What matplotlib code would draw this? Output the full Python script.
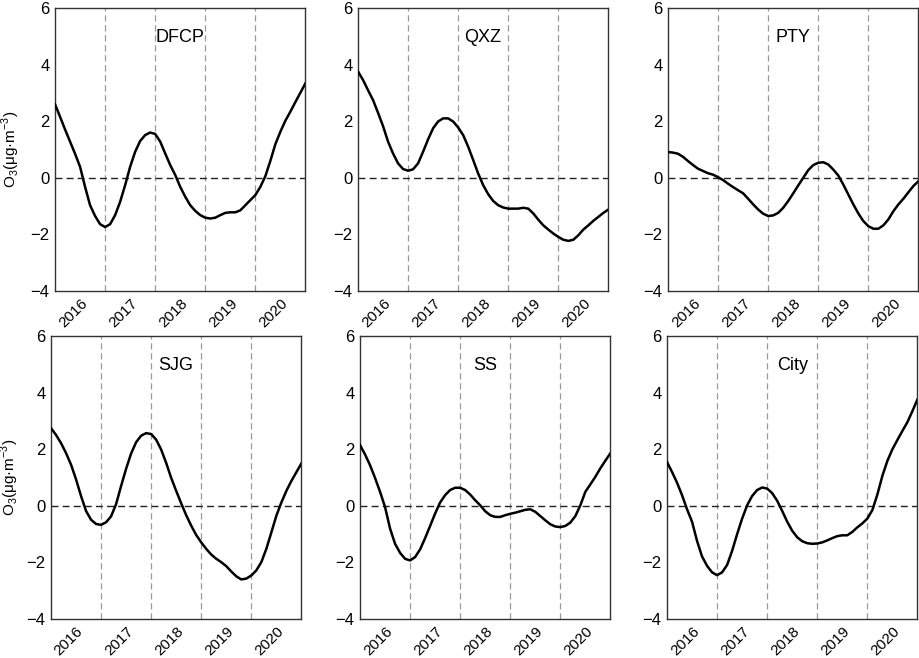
import matplotlib
matplotlib.use("Agg")
import matplotlib.pyplot as plt
from matplotlib.transforms import ScaledTranslation

plt.rcParams['font.family'] = ['Liberation Sans', 'DejaVu Sans']

# Zeitachse (Jahre, Schritt 0.1)
time = [2016.0, 2016.1, 2016.2, 2016.3, 2016.4, 2016.5, 2016.6, 2016.7, 2016.8, 2016.9,
        2017.0, 2017.1, 2017.2, 2017.3, 2017.4, 2017.5, 2017.6, 2017.7, 2017.8, 2017.9,
        2018.0, 2018.1, 2018.2, 2018.3, 2018.4, 2018.5, 2018.6, 2018.7, 2018.8, 2018.9,
        2019.0, 2019.1, 2019.2, 2019.3, 2019.4, 2019.5, 2019.6, 2019.7, 2019.8, 2019.9,
        2020.0, 2020.1, 2020.2, 2020.3, 2020.4, 2020.5, 2020.6, 2020.7, 2020.8, 2020.9,
        2021.0]
year_labels = ["2016", "2017", "2018", "2019", "2020"]
year_ticks = [2016.5, 2017.5, 2018.5, 2019.5, 2020.5]
year_bounds = [2017, 2018, 2019, 2020]

dfcp = [2.6, 2.16, 1.71, 1.28, 0.85, 0.39, -0.32, -0.97, -1.35, -1.64,
        -1.74, -1.64, -1.32, -0.85, -0.26, 0.39, 0.92, 1.3, 1.51, 1.6,
        1.55, 1.28, 0.86, 0.45, 0.1, -0.32, -0.67, -0.97, -1.17, -1.32,
        -1.41, -1.44, -1.41, -1.32, -1.24, -1.22, -1.22, -1.15, -0.97, -0.79,
        -0.61, -0.32, 0.06, 0.6, 1.19, 1.63, 2.02, 2.34, 2.68, 3.01,
        3.34]
qxz = [3.76, 3.46, 3.1, 2.75, 2.3, 1.83, 1.28, 0.86, 0.51, 0.31,
       0.25, 0.3, 0.51, 0.92, 1.36, 1.75, 1.99, 2.1, 2.1, 1.99,
       1.78, 1.51, 1.1, 0.63, 0.15, -0.26, -0.58, -0.82, -0.97, -1.05,
       -1.09, -1.09, -1.09, -1.06, -1.09, -1.26, -1.48, -1.68, -1.83, -1.97,
       -2.09, -2.19, -2.23, -2.19, -2.03, -1.83, -1.68, -1.52, -1.38, -1.24,
       -1.12]
pty = [0.91, 0.89, 0.85, 0.74, 0.59, 0.45, 0.32, 0.24, 0.16, 0.11,
       0.02, -0.08, -0.21, -0.33, -0.44, -0.55, -0.74, -0.94, -1.12, -1.27,
       -1.35, -1.33, -1.24, -1.06, -0.82, -0.55, -0.27, 0.0, 0.27, 0.45,
       0.53, 0.55, 0.47, 0.29, 0.08, -0.24, -0.59, -0.94, -1.26, -1.53,
       -1.71, -1.8, -1.8, -1.68, -1.47, -1.18, -0.94, -0.74, -0.51, -0.29,
       -0.12]
sjg = [2.75, 2.51, 2.22, 1.87, 1.46, 0.94, 0.35, -0.18, -0.49, -0.64,
       -0.67, -0.58, -0.37, 0.06, 0.7, 1.31, 1.85, 2.25, 2.48, 2.57,
       2.54, 2.34, 1.99, 1.52, 0.99, 0.53, 0.09, -0.33, -0.7, -1.03,
       -1.29, -1.52, -1.72, -1.87, -1.99, -2.13, -2.32, -2.49, -2.6, -2.57,
       -2.46, -2.28, -1.99, -1.52, -0.94, -0.35, 0.12, 0.53, 0.88, 1.19,
       1.5]
ss = [2.15, 1.82, 1.44, 0.99, 0.5, -0.04, -0.8, -1.34, -1.66, -1.87,
      -1.93, -1.81, -1.54, -1.14, -0.71, -0.27, 0.12, 0.38, 0.56, 0.64,
      0.64, 0.56, 0.4, 0.2, 0.02, -0.19, -0.33, -0.39, -0.39, -0.33,
      -0.28, -0.24, -0.19, -0.14, -0.12, -0.21, -0.36, -0.51, -0.65, -0.73,
      -0.75, -0.71, -0.59, -0.36, 0.02, 0.5, 0.76, 1.03, 1.33, 1.6,
      1.86]
city = [1.55, 1.2, 0.82, 0.38, -0.12, -0.56, -1.24, -1.79, -2.12, -2.35,
        -2.45, -2.35, -2.09, -1.59, -1.0, -0.45, 0.02, 0.35, 0.56, 0.65,
        0.61, 0.45, 0.18, -0.18, -0.56, -0.88, -1.11, -1.25, -1.32, -1.34,
        -1.33, -1.29, -1.22, -1.14, -1.07, -1.04, -1.04, -0.92, -0.76, -0.62,
        -0.45, -0.15, 0.4, 1.06, 1.59, 2.0, 2.33, 2.65, 2.96, 3.35,
        3.76]

panels = [("DFCP", dfcp), ("QXZ", qxz), ("PTY", pty),
          ("SJG", sjg), ("SS", ss), ("City", city)]

fig = plt.figure(figsize=(9.2, 6.58), dpi=100)

lefts = [[0.0598, 0.3891, 0.7261],
         [0.0554, 0.3913, 0.7250]]
bottoms = [0.5578, 0.0592]
ylabel_x = [-0.13, -0.12]
w, h = 0.2722, 0.4300

for i, (name, vals) in enumerate(panels):
    row, col = divmod(i, 3)
    ax = fig.add_axes([lefts[row][col], bottoms[row], w, h])

    for xb in year_bounds:
        ax.axvline(xb, color="#9a9a9a", lw=0.9, ls=(0, (5, 3)), zorder=1)
    ax.axhline(0, color="#222222", lw=1.0, ls=(0, (5, 3)), zorder=2)
    ax.plot(time, vals, color="black", lw=1.8, zorder=3)

    ax.set_xlim(2016, 2021)
    ax.set_ylim(-4, 6)
    ax.set_yticks([-4, -2, 0, 2, 4, 6])
    ax.set_xticks(year_ticks)
    ax.set_xticklabels(year_labels, rotation=45, ha="right", va="top",
                       rotation_mode="anchor", fontsize=11)
    off = ScaledTranslation(6 / 72, 0, fig.dpi_scale_trans)
    for lbl in ax.get_xticklabels():
        lbl.set_transform(lbl.get_transform() + off)
    ax.tick_params(axis="both", length=0, pad=4)
    ax.tick_params(axis="y", labelsize=12)
    for sp in ax.spines.values():
        sp.set_color("#333333")
        sp.set_linewidth(1.0)

    ax.text(0.5, 0.895, name, transform=ax.transAxes, ha="center", va="center",
            fontsize=13)
    if col == 0:
        ax.set_ylabel(r"O$_\mathregular{3}$(μg·m$^\mathregular{-3}$)", fontsize=11)
        ax.yaxis.set_label_coords(ylabel_x[row], 0.5)

fig.savefig("out.png", dpi=100)
